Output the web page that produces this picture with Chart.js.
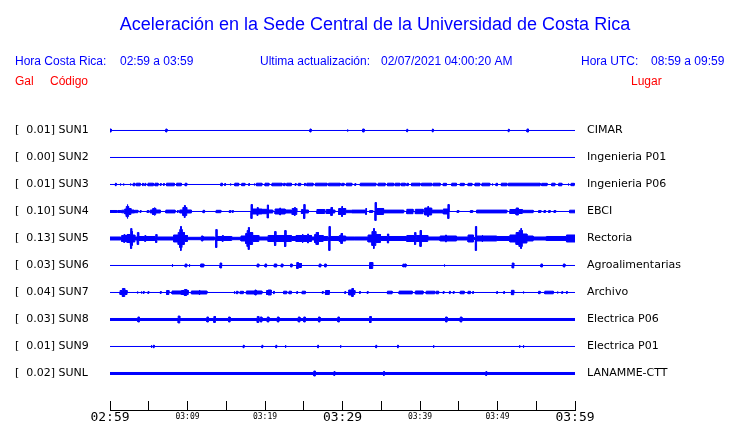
<!DOCTYPE html>
<html><head><meta charset="utf-8">
<script src="https://cdn.jsdelivr.net/npm/chart.js@4/dist/chart.umd.min.js"></script>
<style>html,body{margin:0;padding:0;background:#fff;overflow:hidden}canvas{display:block}</style>
</head><body>
<canvas id="c" width="740" height="423"></canvas>
<script>
// ---------------- data ----------------
const stations = ['SUN1','SUN2','SUN3','SUN4','SUN5','SUN6','SUN7','SUN8','SUN9','SUNL'];
const places = ['CIMAR','Ingenieria P01','Ingenieria P06','EBCI','Rectoria','Agroalimentarias','Archivo','Electrica P06','Electrica P01','LANAMME-CTT'];
const peakGal = [0.01,0.00,0.01,0.10,0.13,0.03,0.04,0.03,0.01,0.02];
const timeTickMinutes = [0,10,20,30,40,50,60];
const timeTickLabels = ['02:59','03:09','03:19','03:29','03:39','03:49','03:59'];
const noiseLevel = [0,0,0,0,1,0,0,1,0,1];
// bursts: [start minute, end minute, half amplitude]
const sun1 = [[0,0.15,1.5],[7.2,7.35,1.5],[25.8,25.95,1.5],[30.6,30.7,1],[32.6,32.8,1.5],[38.3,38.4,1.3],[41.6,41.7,1.5],[51.4,51.5,1.3],[53.8,54.0,1.5]];
const sun2 = [];
const sun3 = [[0.7,0.8,1.3],[1.3,1.4,1],[1.7,1.8,1],[2.6,2.7,1],[3.0,3.2,1.3],[3.4,3.9,1.3],[4.2,4.3,1.2],[4.5,4.6,1.2],[4.9,5.6,1.3],[5.8,6.2,1.3],[6.5,6.6,1],[6.9,7.0,1],[7.3,8.3,1.3],[8.6,9.2,1.3],[9.7,9.9,1.3],
  [14.3,14.5,1.3],[14.8,14.9,1],[15.5,15.6,1],[16.1,16.6,1.3],[17.0,17.4,1.2],[17.9,18.0,1],[18.6,18.7,1],[18.9,19.6,1.3],[20.0,20.5,1.3],[20.9,22.2,1.3],[22.4,22.6,1.2],[22.8,23.4,1.3],[23.9,24.0,1],[24.3,24.6,1.2],[25.1,25.2,1.2],[25.4,26.2,1.3],[26.5,28.0,1.3],[28.2,29.7,1.3],[29.9,30.2,1.2],
  [30.5,31.2,1.3],[31.6,31.7,1],[32.3,34.3,1.3],[34.6,35.5,1.3],[35.8,36.6,1.3],[36.8,37.4,1.3],[37.6,38.1,1.3],[38.3,38.5,1.2],[38.9,40.0,1.3],[40.2,41.5,1.3],[41.7,42.6,1.3],[43.0,43.4,1.2],[44.1,44.7,1.3],[45.2,45.7,1.2],[46.2,46.7,1.2],[47.1,47.7,1.3],[48.0,49.0,1.3],[49.3,49.4,1],[49.8,50.0,1.2],[50.5,51.2,1.3],[51.4,55.5,1.3],[55.7,56.4,1.2],[57.0,57.4,1.3],[57.9,58.3,1.3],[59.1,59.2,1],[59.5,59.9,1.2]];
const sun4 = [[0,0.9,1],[1.0,1.4,1],[1.5,1.9,1.3],[1.9,2.1,2.5],[2.1,2.4,5],[2.2,2.3,7],[2.4,2.7,3],[2.7,3.1,1.5],[3.2,3.6,1.2],[3.9,4.0,1],[4.8,5.0,1],[5.2,5.5,1.5],[5.5,5.9,3],[5.7,5.8,4],[5.9,6.5,1.5],[7.2,8.4,1.4],[8.7,8.8,1],[9.0,9.4,1.5],[9.4,9.9,4],[9.6,9.7,6],[9.9,10.5,1.5],[12.0,12.2,1.2],[13.7,14.3,1.2],[15.4,15.6,1],[15.8,15.9,1],
  [18.2,18.35,7],[18.35,19.6,2.5],[19.0,19.1,4],[19.6,20.3,2.2],[20.3,20.45,6.5],[20.45,21.0,1.5],[21.3,22.6,2.5],[21.9,22.0,3.5],[22.6,23.4,1.5],[23.5,24.1,3],[23.8,23.9,4],[24.7,25.0,2],[25.0,25.15,7],[25.15,25.6,1.5],[26.7,27.7,2],[27.9,28.5,2],[28.5,28.7,4],[28.7,29.0,1.5],[29.5,30.4,3],[29.9,30.0,5],[30.4,31.2,1.2],[31.2,32.9,1.4],[33.0,33.1,3],[33.5,33.9,1],
  [34.2,34.35,9],[34.35,35.3,3],[35.3,37.9,1.4],[38.3,39.1,2.2],[39.4,40.4,2.2],[40.6,41.5,3.5],[41.0,41.1,5],[41.5,42.9,1.4],[43.0,43.6,2.5],[43.6,43.75,7],[44.8,45.0,1],[46.5,46.8,1],[47.3,51.2,1.4],[51.6,52.4,2],[52.4,52.7,3.5],[52.7,53.2,2],[53.2,54.6,1.2],[55.3,55.6,1],[56.0,56.2,1],[56.6,56.8,1],[57.3,57.5,1],[59.3,60,1.3]];
const sun5 = [[0,1.4,1.5],[1.5,2.2,3],[1.8,1.9,4],[2.2,2.6,4],[2.6,2.9,7],[2.7,2.8,10],[2.9,3.2,3.5],[3.2,3.5,1.5],[3.55,3.7,6],[3.7,5.8,2],[4.5,4.6,3],[5.9,6.05,4],[6.1,8.2,1.5],[8.2,8.8,3.5],[8.8,9.0,6],[9.0,9.3,9],[9.1,9.2,12],[9.3,9.6,6],[9.6,10.0,3],[10.0,11.8,1.2],[11.8,12.0,2.5],[12.0,13.5,1.5],[13.65,13.8,9],[13.8,15.7,2],[14.5,14.6,3],[15.7,16.9,1.2],[16.9,17.5,2.5],[17.5,17.7,5],[17.7,18.0,8],[17.85,17.95,11],[18.0,18.4,6],[18.4,19.2,3],[19.2,20.4,1.5],
  [20.4,21.2,3],[21.25,21.4,7],[21.4,22.5,3],[22.55,22.7,8],[22.7,23.4,3],[23.4,24.0,2],[24.0,26.0,3],[24.8,24.9,4.5],[25.5,25.6,4.5],[26.0,26.4,1.5],[26.4,26.6,4],[26.6,26.9,6],[26.9,27.5,3],[27.5,28.1,2],[28.25,28.4,12],[28.4,29.6,2],[29.6,29.8,3],[29.8,30.0,5],[30.0,30.4,2.5],[30.4,31.6,1.5],[31.6,33.3,1.5],[33.3,33.8,3.5],[33.8,34.3,7],[34.0,34.1,10],[34.3,34.9,4],[34.9,35.8,2],[35.8,35.95,4.5],[36.0,38.3,2],
  [38.3,39.3,3],[39.3,39.45,6],[39.5,40.0,3],[40.0,40.15,8],[40.2,41.0,3],[41.0,42.6,1.5],[42.6,44.7,2.5],[43.3,43.4,3.5],[44.7,46.2,1.5],[46.2,46.9,3.5],[47.15,47.3,12],[47.3,49.9,2.5],[48.0,48.1,3.5],[49.9,51.6,2],[51.6,52.4,3.5],[52.4,52.8,6],[52.8,53.2,8],[53.0,53.1,10],[53.2,53.8,4.5],[53.8,54.6,2.5],[54.6,56.3,1.5],[56.3,58.9,2],[58.9,60,3.5]];
const sun6 = [[8.0,8.1,1.3],[9.7,9.9,1.5],[10.2,10.3,1.3],[11.7,12.1,1.5],[14.2,14.4,2.5],[19.0,19.2,1.5],[20.0,20.2,1.5],[21.2,21.5,1.5],[22.1,22.3,1.5],[23.3,23.5,1.5],[24.1,24.3,3],[24.3,24.7,2],[27.0,27.2,1.5],[27.7,27.9,1.5],[33.5,33.9,3],[37.8,37.9,1.5],[38.0,38.2,1.5],[43.1,43.2,1],[51.9,52.1,2.5],[55.6,55.8,1.5],[58.5,58.7,1.5]];
const sun7 = [[1.3,1.6,2],[1.6,1.9,4],[1.9,2.2,2],[3.5,3.6,1],[4.0,4.1,1],[4.3,4.4,1],[4.9,5.0,1],[6.5,6.6,1],[7.3,7.6,2],[8.0,9.2,1.5],[9.2,9.6,2],[9.6,9.9,3],[9.9,10.1,2],[10.5,11.5,1.5],[11.5,11.6,2.5],[11.6,12.5,1.5],[16.0,16.1,1.2],[16.3,16.5,1.2],[16.8,17.2,1.2],[17.6,18.7,1.5],[18.7,18.85,2.5],[18.9,19.6,1.5],[20.2,20.4,2],[20.4,20.8,2.5],[21.1,21.2,1.2],[22.4,22.8,1.3],[23.1,23.4,1.3],[24.1,24.2,1],[24.8,25.2,1.3],[27.4,27.5,1],[27.8,28.3,2],
  [30.3,30.4,1],[30.8,31.2,2.5],[31.2,31.4,4],[31.4,31.6,2],[32.2,32.3,1],[33.2,33.3,1],[35.8,36.4,1.3],[37.3,39.0,1.4],[39.4,40.4,1.5],[40.8,41.9,1.3],[42.1,42.4,1.3],[43.0,43.1,1],[43.8,43.9,1.2],[44.3,44.4,1],[45.2,45.7,1.3],[46.2,46.5,1.2],[46.8,46.9,1],[49.9,50.0,1],[50.8,50.9,1],[51.8,52.1,2.2],[53.3,53.4,1],[55.3,55.5,1.2],[56.1,57.2,1.3],[57.7,57.8,1],[58.3,58.4,1],[58.9,59.0,1]];
const sun8 = [[3.6,3.8,2.5],[8.8,9.0,3.5],[12.5,12.7,2.5],[13.4,13.6,3],[15.3,15.5,2.5],[19.0,19.2,3],[19.4,19.6,2.5],[20.3,20.5,2.5],[21.6,21.8,2.5],[24.3,24.5,2.5],[25.0,25.2,2.5],[26.9,27.1,2.5],[29.4,29.6,2.5],[33.5,33.7,3],[43.3,43.5,2.5],[45.2,45.4,2.5]];
const sun9 = [[5.3,5.4,1.3],[5.6,5.7,1.3],[17.2,17.3,1.3],[19.6,19.7,1.3],[21.4,21.5,1.3],[22.6,22.7,1.3],[26.8,26.9,1.3],[29.7,29.8,1.3],[34.3,34.4,1.3],[37.1,37.2,1.3],[41.7,41.8,1.3],[52.8,52.9,1.3],[53.3,53.4,1.3]];
const sunl = [[26.3,26.5,2.5],[28.9,29.0,2],[35.3,35.4,2],[48.5,48.6,2]];
const bursts = [sun1,sun2,sun3,sun4,sun5,sun6,sun7,sun8,sun9,sunl];

// ---------------- build ----------------
const BLUE = '#0000ff', RED = '#ff0000';
const traceGain = 1/27;

function envelope(events, base) {
  const xs = new Set([0, 60]);
  events.forEach(e => { xs.add(e[0]); xs.add(e[1]); });
  const b = [...xs].sort((p, q) => p - q);
  const pts = [];
  for (let k = 0; k < b.length - 1; k++) {
    const a = b[k], c = b[k + 1], m = (a + c) / 2;
    let amp = base;
    events.forEach(e => { if (m > e[0] && m < e[1]) amp = Math.max(amp, e[2]); });
    pts.push({x: a, a: amp}, {x: c, a: amp});
  }
  return pts;
}

const datasets = [];
stations.forEach((s, i) => {
  const env = envelope(bursts[i], noiseLevel[i]);
  const common = {borderColor: BLUE, backgroundColor: BLUE, borderWidth: 1, pointRadius: 0, tension: 0, yAxisID: 'y', xAxisID: 'x'};
  datasets.push(Object.assign({label: s + ' +', data: env.map(p => ({x: p.x, y: i - p.a * traceGain})), fill: false}, common));
  datasets.push(Object.assign({label: s + ' -', data: env.map(p => ({x: p.x, y: i + p.a * traceGain})), fill: '-1'}, common));
});

const headerPlugin = {
  id: 'header',
  afterDraw(chart) {
    const ctx = chart.ctx;
    ctx.save();
    ctx.textBaseline = 'alphabetic';
    ctx.fillStyle = BLUE;
    ctx.font = '18px "Liberation Sans", Arial, sans-serif';
    ctx.textAlign = 'center';
    ctx.fillText('Aceleración en la Sede Central de la Universidad de Costa Rica', 375, 30);
    ctx.textAlign = 'left';
    ctx.font = '12px "Liberation Sans", Arial, sans-serif';
    ctx.fillText('Hora Costa Rica:', 15, 65);
    ctx.fillText('02:59 a 03:59', 120, 65);
    ctx.fillText('Ultima actualización:', 260, 65);
    ctx.fillText('02/07/2021 04:00:20 AM', 381, 65);
    ctx.fillText('Hora UTC:', 581, 65);
    ctx.fillText('08:59 a 09:59', 651, 65);
    ctx.fillStyle = RED;
    ctx.fillText('Gal', 15, 85);
    ctx.fillText('Código', 50, 85);
    ctx.fillText('Lugar', 631, 85);
    ctx.restore();
  }
};

const yMin = -1.0185, yMax = 10.352;
const labelFont = {family: '"DejaVu Sans", sans-serif', size: 11};

new Chart(document.getElementById('c'), {
  type: 'line',
  data: {datasets},
  options: {
    responsive: false,
    devicePixelRatio: 1,
    animation: false,
    events: [],
    layout: {padding: {top: 103, left: 15, right: 0, bottom: 0}},
    plugins: {legend: {display: false}, tooltip: {enabled: false}, title: {display: false}},
    scales: {
      x: {
        type: 'linear', position: 'bottom', min: 0, max: 60,
        afterFit: s => { s.height = 13; },
        ticks: {
          stepSize: 5, autoSkip: false, maxRotation: 0, minRotation: 0, padding: 8, color: '#000',
          font: ctx => (ctx.tick && ctx.tick.value % 30 === 0)
            ? {family: '"DejaVu Sans Mono", monospace', size: 13, lineHeight: 1.4}
            : {family: '"DejaVu Sans Mono", monospace', size: 8, lineHeight: 2.1},
          callback: v => { const k = timeTickMinutes.indexOf(v); return k >= 0 ? timeTickLabels[k] : ''; }
        },
        grid: {display: true, drawOnChartArea: false, drawTicks: true, tickLength: -9, color: '#000', lineWidth: 1},
        border: {display: true, color: '#000', width: 1}
      },
      y: {
        type: 'linear', position: 'left', reverse: true, min: yMin, max: yMax,
        afterFit: s => { s.width = 95; },
        afterBuildTicks: s => { s.ticks = stations.map((_, i) => ({value: i})); },
        ticks: {
          autoSkip: false, crossAlign: 'far', padding: 0, color: '#000', font: labelFont,
          callback: v => '[  ' + peakGal[v].toFixed(2) + '] ' + stations[v]
        },
        grid: {display: false, drawTicks: false},
        border: {display: false}
      },
      yr: {
        type: 'linear', position: 'right', reverse: true, min: yMin, max: yMax,
        afterFit: s => { s.width = 165; },
        afterBuildTicks: s => { s.ticks = places.map((_, i) => ({value: i})); },
        ticks: {
          autoSkip: false, crossAlign: 'near', padding: 0, color: '#000', font: labelFont,
          callback: v => places[v]
        },
        grid: {display: true, drawOnChartArea: false, drawTicks: true, tickLength: 12, color: 'rgba(0,0,0,0)'},
        border: {display: false}
      }
    }
  },
  plugins: [headerPlugin]
});
</script>
</body></html>
